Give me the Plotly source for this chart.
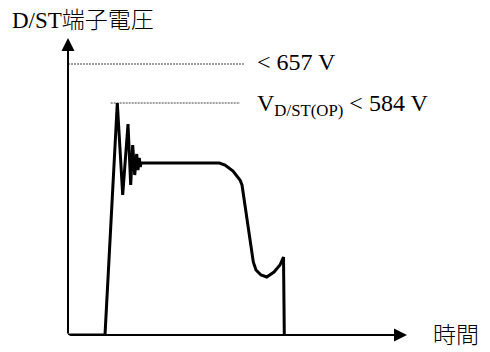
import plotly.graph_objects as go

# Schematic waveform (arbitrary units: time to the right of the vertical axis,
# voltage above the horizontal axis)
time = [0, 37, 49.3, 54.7, 60, 62.7, 64.7, 66.7, 68.7, 70, 71.3, 72.3, 73,
        151.3, 157, 165, 172, 174, 185.3, 188, 193, 198.7, 206, 212, 215.5, 216.3]
voltage = [0, 0, 232, 140, 211, 150, 190, 160, 181, 165, 177, 168, 172,
           172, 170, 164, 155, 150, 73, 65, 60, 58, 63, 70, 78, 0]

# Reference levels (dotted lines) and their labels
ovp_level = 271
ovp_span = [0, 176]
op_level = 232
op_span = [42.7, 172]
ovp_label = "< 657 V"
op_label = "V<sub>D/ST(OP)</sub> < 584 V"
y_title = "D/ST端子電圧"
x_title = "時間"

X_MAX, Y_MAX = 342, 297
FONT = "Liberation Serif, 'Noto Sans CJK JP', serif"
FS = 24

fig = go.Figure()

# dotted reference lines
for lvl, span in [(ovp_level, ovp_span), (op_level, op_span)]:
    fig.add_trace(go.Scatter(
        x=span, y=[lvl, lvl], mode="lines",
        line=dict(color="#444444", width=1, dash="2px,1px"),
        hoverinfo="skip", showlegend=False, cliponaxis=False))

# waveform
fig.add_trace(go.Scatter(
    x=time, y=voltage, mode="lines",
    line=dict(color="black", width=3),
    showlegend=False, cliponaxis=False))

font = dict(size=FS, family=FONT, color="black")
cjk_font = dict(size=23, family=FONT, color="black", weight=300)
annotations = [
    # vertical axis arrow
    dict(x=0, y=Y_MAX, ax=0, ay=0, xref="x", yref="y", axref="x", ayref="y",
         showarrow=True, arrowhead=2, arrowsize=1.3, arrowwidth=2,
         arrowcolor="black", text=""),
    # horizontal axis arrow
    dict(x=X_MAX - 3, y=0, ax=0, ay=0, xref="x", yref="y", axref="x", ayref="y",
         showarrow=True, arrowhead=2, arrowsize=1.3, arrowwidth=2,
         arrowcolor="black", text=""),
    dict(x=-58 / X_MAX, y=314 / Y_MAX, xref="paper", yref="paper", text=y_title,
         showarrow=False, xanchor="left", yanchor="middle", font=cjk_font),
    dict(x=363 / X_MAX, y=0, xref="paper", yref="paper", text=x_title,
         showarrow=False, xanchor="left", yanchor="middle", font=cjk_font),
    dict(x=187 / X_MAX, y=273 / Y_MAX, xref="paper", yref="paper", text=ovp_label,
         showarrow=False, xanchor="left", yanchor="middle", font=font),
    dict(x=187 / X_MAX, y=230 / Y_MAX, xref="paper", yref="paper", text=op_label,
         showarrow=False, xanchor="left", yanchor="middle", font=font),
]

# page body adds an 8px margin, so the figure is 8px smaller on each side
fig.update_layout(
    width=482, height=344,
    margin=dict(l=60, r=80, t=30, b=17),
    paper_bgcolor="white", plot_bgcolor="white",
    xaxis=dict(range=[0, X_MAX], visible=False),
    yaxis=dict(range=[0, Y_MAX], visible=False),
    annotations=annotations,
    showlegend=False,
)

fig.write_html("out.html")
